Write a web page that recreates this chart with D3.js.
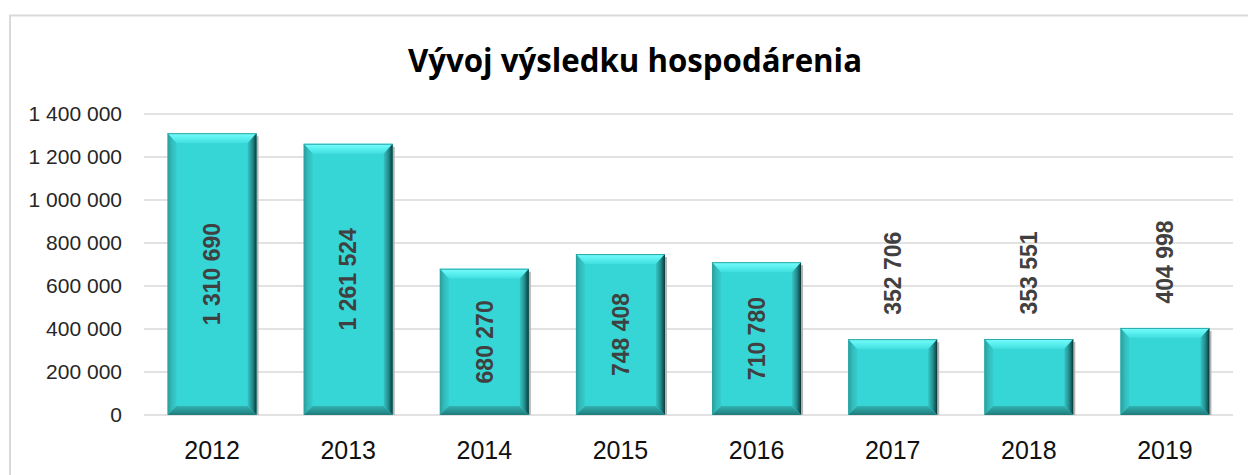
<!DOCTYPE html>
<html lang="sk">
<head>
  <meta charset="UTF-8">
  <title>Vývoj výsledku hospodárenia</title>
  <script src="https://cdn.jsdelivr.net/npm/d3@7/dist/d3.min.js"></script>
  <style>
    body { margin: 0; background: #fff; }
    svg { display: block; font-family: "Liberation Sans", Arial, sans-serif; }
  </style>
</head>
<body>
<div id="chart"></div>
<script>
  // data
  var years = ["2012", "2013", "2014", "2015", "2016", "2017", "2018", "2019"];
  var values = [1310690, 1261524, 680270, 748408, 710780, 352706, 353551, 404998];
  var yTicks = [0, 200000, 400000, 600000, 800000, 1000000, 1200000, 1400000];

  var W = 1248, H = 475;
  var svg = d3.select("#chart").append("svg")
    .attr("width", W)
    .attr("height", H);

  // outer chart frame
  svg.append("rect")
    .attr("x", 10).attr("y", 15.5)
    .attr("width", W + 20).attr("height", H + 20)
    .attr("fill", "none")
    .attr("stroke", "#d9d9d9")
    .attr("stroke-width", 2);

  // title
  svg.append("text")
    .attr("x", 635).attr("y", 72)
    .attr("text-anchor", "middle")
    .attr("textLength", 454)
    .attr("lengthAdjust", "spacingAndGlyphs")
    .style("font-family", "'Open Sans', 'Liberation Sans', sans-serif")
    .style("font-weight", "bold")
    .style("font-size", "33px")
    .attr("fill", "#000")
    .text("Vývoj výsledku hospodárenia");

  var x = d3.scaleBand().domain(years).range([144, 1233]).paddingInner(0.346).paddingOuter(0.173);
  var y = d3.scaleLinear().domain([0, 1400000]).range([415, 114]);
  var fmt = function(v) { return d3.format(",")(v).replace(/,/g, " "); };

  // gridlines
  svg.append("g").selectAll("line").data(yTicks).join("line")
    .attr("x1", 144).attr("x2", 1233)
    .attr("y1", d => y(d)).attr("y2", d => y(d))
    .attr("stroke", "#d9d9d9").attr("stroke-width", 1.5);

  // y axis labels
  var yAxis = d3.axisLeft(y).tickValues(yTicks).tickFormat(fmt).tickSize(0).tickPadding(0);
  var ga = svg.append("g").attr("transform", "translate(122,0)").call(yAxis);
  ga.select(".domain").remove();
  ga.selectAll("text")
    .style("font-family", "'Liberation Sans', Arial, sans-serif")
    .style("font-size", "21px")
    .attr("fill", "#262626");

  // x axis labels
  var xAxis = d3.axisBottom(x).tickSize(0).tickPadding(0);
  var gx = svg.append("g").attr("transform", "translate(0,415)").call(xAxis);
  gx.select(".domain").remove();
  gx.selectAll("text")
    .attr("y", 0).attr("dy", null)
    .attr("transform", "translate(0,44)")
    .style("font-family", "'Liberation Sans', Arial, sans-serif")
    .style("font-size", "25px")
    .attr("fill", "#111");

  // gradients for the bevelled bars
  var defs = svg.append("defs");
  function grad(id, x2, y2, stops) {
    var g = defs.append("linearGradient").attr("id", id)
      .attr("x1", 0).attr("y1", 0).attr("x2", x2).attr("y2", y2);
    stops.forEach(s => g.append("stop").attr("offset", s[0]).attr("stop-color", s[1]));
  }
  grad("gTop", 0, 1, [[0, "#7cfafa"], [0.4, "#5ff3f3"], [1, "#40dede"]]);
  grad("gLeft", 1, 0, [[0, "#2a9c9c"], [0.5, "#33bcbc"], [1, "#36cccc"]]);
  grad("gRight", 1, 0, [[0, "#36c4c4"], [0.5, "#239090"], [0.85, "#145454"], [1, "#082c2c"]]);
  grad("gBot", 0, 1, [[0, "#32b2b2"], [1, "#217a7a"]]);

  var b = 9;
  var bars = svg.append("g").selectAll("g").data(values).join("g");

  bars.each(function(v, i) {
    var g = d3.select(this);
    var x0 = x(years[i]), x1 = x0 + x.bandwidth();
    var y0 = y(v), y1 = y(0);
    // small shadow on the right
    g.append("rect").attr("x", x1).attr("y", y0 + 3).attr("width", 2).attr("height", y1 - y0 - 3)
      .attr("fill", "#b5b5b5");
    g.append("rect").attr("x", x0).attr("y", y0).attr("width", x1 - x0).attr("height", y1 - y0)
      .attr("fill", "#37d6d6");
    var poly = function(pts, fill) {
      g.append("polygon").attr("points", pts.map(p => p.join(",")).join(" ")).attr("fill", fill);
    };
    poly([[x0, y0], [x1, y0], [x1 - b, y0 + b + 1], [x0 + b, y0 + b + 1]], "url(#gTop)");
    poly([[x0, y0], [x0 + b, y0 + b + 1], [x0 + b, y1 - b], [x0, y1]], "url(#gLeft)");
    poly([[x1, y0], [x1, y1], [x1 - b, y1 - b], [x1 - b, y0 + b + 1]], "url(#gRight)");
    poly([[x0, y1], [x1, y1], [x1 - b, y1 - b], [x0 + b, y1 - b]], "url(#gBot)");
    g.append("line").attr("x1", x0).attr("x2", x1).attr("y1", y0 + 0.5).attr("y2", y0 + 0.5)
      .attr("stroke", "#2aa8a8").attr("stroke-width", 1);
  });

  // data labels, rotated; inside when they fit, above otherwise
  bars.append("text")
    .attr("transform", function(v, i) {
      var cx = x(years[i]) + x.bandwidth() / 2;
      var h = y(0) - y(v);
      var cy = h > 130 ? (y(v) + y(0)) / 2 : y(v) - 66;
      return "translate(" + cx + "," + cy + ") rotate(-90)";
    })
    .attr("text-anchor", "middle")
    .attr("dy", "0.36em")
    .style("font-family", "'Liberation Sans', Arial, sans-serif")
    .style("font-weight", "bold")
    .style("font-size", "23px")
    .attr("fill", "#404040")
    .text(v => fmt(v));
</script>
</body>
</html>
